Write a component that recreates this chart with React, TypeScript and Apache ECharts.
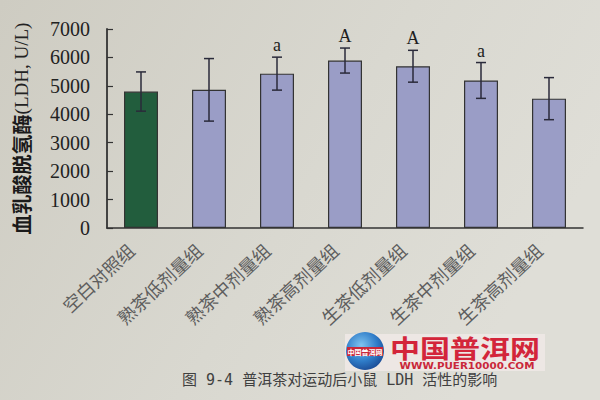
import React, { useEffect, useRef } from "react";
import * as echarts from "echarts";

const categories = ["空白对照组", "熟茶低剂量组", "熟茶中剂量组", "熟茶高剂量组", "生茶低剂量组", "生茶中剂量组", "生茶高剂量组"];
const means = [4800, 4860, 5430, 5890, 5690, 5190, 4550];
const errors = [690, 1100, 580, 440, 560, 630, 740];
const letters = ["", "", "a", "A", "A", "a", ""];
const yTicks = [0, 1000, 2000, 3000, 4000, 5000, 6000, 7000];
const yAxisName = "血乳酸脱氢酶";
const yAxisUnit = "(LDH, U/L)";
const caption = "图 9-4 普洱茶对运动后小鼠 LDH 活性的影响";
const watermark = "中国普洱网";
const watermarkUrl = "WWW.PUER10000.COM";

const GREEN = "#225d3d";
const PURPLE = "#9a9dc6";

export default function App() {
  const ref = useRef<HTMLDivElement>(null);
  useEffect(() => {
    if (!ref.current) return;
    const chart = echarts.init(ref.current, null, { renderer: "svg" });
    const barData = means.map((v, i) => ({
      value: v,
      itemStyle: { color: i === 0 ? GREEN : PURPLE },
    }));
    const errData = means.map((v, i) => [i, v - errors[i], v + errors[i]]);
    chart.setOption({
      animation: false,
      backgroundColor: {
        type: "linear",
        x: 0, y: 0, x2: 1, y2: 0.4,
        colorStops: [
          { offset: 0, color: "#ceccc2" },
          { offset: 0.6, color: "#d9d8d0" },
          { offset: 1, color: "#dfded7" },
        ],
      },
      title: {
        text: caption,
        left: 177,
        top: 367,
        textStyle: {
          fontSize: 15,
          fontWeight: "normal",
          color: "#404040",
          fontFamily: "'DejaVu Sans Mono', 'Noto Sans CJK SC'",
        },
      },
      grid: { left: 107, right: 17, top: 29, bottom: 172, containLabel: false },
      xAxis: {
        type: "category",
        data: categories,
        axisLine: { lineStyle: { color: "#333", width: 1.5 } },
        axisTick: { inside: true, length: 5, lineStyle: { color: "#333", width: 1.2 } },
        axisLabel: {
          rotate: 43,
          interval: 0,
          margin: 9,
          padding: [0, 14, 0, 0],
          fontSize: 18,
          color: "#5e5e5e",
          fontFamily: "Noto Sans CJK SC",
        },
      },
      yAxis: {
        type: "value",
        min: yTicks[0],
        max: yTicks[yTicks.length - 1],
        interval: yTicks[1] - yTicks[0],
        splitLine: { show: false },
        axisLine: { show: true, lineStyle: { color: "#333", width: 1.8 } },
        axisTick: { show: true, inside: true, length: 6, lineStyle: { color: "#333", width: 1.2 } },
        axisLabel: {
          margin: 17,
          fontSize: 20,
          color: "#222",
          fontFamily: "Liberation Serif",
          formatter: (v: number) => String(v),
        },
        name: `{a|${yAxisName}}{b|${yAxisUnit}}`,
        nameLocation: "middle",
        nameGap: 76,
        nameTextStyle: {
          rich: {
            a: { fontSize: 20, fontWeight: "bold", color: "#1a1a1a", fontFamily: "Noto Sans CJK SC" },
            b: { fontSize: 19, color: "#222", fontFamily: "Liberation Serif" },
          },
        },
      },
      series: [
        {
          type: "bar",
          data: barData,
          barWidth: "50%",
          itemStyle: { borderColor: "#333", borderWidth: 1.2 },
          z: 2,
        },
        {
          type: "custom",
          data: errData,
          z: 3,
          renderItem: (params: any, api: any) => {
            const idx = api.value(0);
            const top = api.coord([idx, api.value(2)]);
            const bot = api.coord([idx, api.value(1)]);
            const hw = 5;
            const style = { stroke: "#2a2a3a", lineWidth: 1.5 };
            const children: any[] = [
              { type: "line", shape: { x1: top[0], y1: top[1], x2: bot[0], y2: bot[1] }, style },
              { type: "line", shape: { x1: top[0] - hw, y1: top[1], x2: top[0] + hw, y2: top[1] }, style },
              { type: "line", shape: { x1: bot[0] - hw, y1: bot[1], x2: bot[0] + hw, y2: bot[1] }, style },
            ];
            const letter = letters[params.dataIndex];
            if (letter) {
              children.push({
                type: "text",
                style: {
                  text: letter,
                  x: top[0],
                  y: top[1] - 3,
                  align: "center",
                  verticalAlign: "bottom",
                  fontSize: 18,
                  fontFamily: "Liberation Serif",
                  fill: "#1e1e1e",
                },
              });
            }
            return { type: "group", children };
          },
        },
      ],
      graphic: [
        {
          type: "group",
          left: 345,
          top: 332,
          children: [
            { type: "rect", shape: { x: 0, y: 0, width: 200, height: 37 }, style: { fill: "rgba(238,232,230,0.9)" } },
            {
              type: "circle",
              shape: { cx: 20, cy: 17, r: 19 },
              style: {
                fill: {
                  type: "radial", x: 0.4, y: 0.35, r: 0.7,
                  colorStops: [
                    { offset: 0, color: "#7fc4f0" },
                    { offset: 0.6, color: "#2f7cc8" },
                    { offset: 1, color: "#1b4a94" },
                  ],
                },
              },
            },
            { type: "rect", shape: { x: 2, y: 13, width: 36, height: 9 }, style: { fill: "#c8283a" } },
            {
              type: "text",
              style: { text: watermark, x: 20, y: 17.5, align: "center", verticalAlign: "middle", fontSize: 7, fontWeight: "bold", fill: "#fff", fontFamily: "Noto Sans CJK SC" },
            },
            {
              type: "text",
              x: 45,
              y: 13,
              scaleX: 1.2,
              style: { text: watermark, x: 0, y: 0, verticalAlign: "middle", fontSize: 25, fontWeight: "bold", fill: "#d3253a", fontFamily: "Noto Sans CJK SC" },
            },
            {
              type: "text",
              x: 122,
              y: 31.5,
              scaleX: 1.15,
              style: { text: watermarkUrl, x: 0, y: 0, align: "center", verticalAlign: "middle", fontSize: 9, fontWeight: "bold", fill: "#c9283a", fontFamily: "DejaVu Sans" },
            },
          ],
        },
      ],
    });
    return () => chart.dispose();
  }, []);
  return <div ref={ref} style={{ position: "absolute", left: 0, top: 0, width: 600, height: 400 }} />;
}
